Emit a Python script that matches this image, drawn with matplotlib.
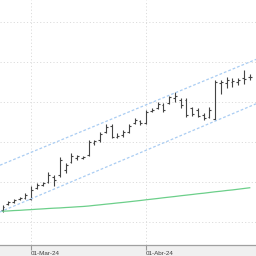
import matplotlib
matplotlib.use('Agg')
import matplotlib.pyplot as plt

# trading-day index of each bar
bar_idx = list(range(44))

highs  = [107.13, 107.66, 107.91, 108.16, 108.59, 109.50, 109.84, 109.96, 111.29, 110.88,
          113.16, 112.38, 113.63, 113.38, 113.25, 115.25, 115.25, 116.29, 117.21, 117.21,
          116.13, 116.50, 117.25, 117.96, 117.81, 119.00, 119.21, 120.00, 119.88, 120.81,
          121.19, 120.46, 120.46, 119.41, 119.31, 118.59, 119.41, 122.75, 122.75, 123.13,
          122.96, 122.96, 123.94, 123.50]
lows   = [106.25, 107.09, 107.34, 107.75, 107.88, 107.75, 109.09, 109.50, 109.84, 109.50,
          110.66, 111.13, 112.38, 112.75, 112.88, 113.25, 114.63, 115.04, 116.09, 115.46,
          115.50, 115.66, 116.09, 117.19, 117.13, 117.25, 118.69, 119.13, 118.69, 119.75,
          120.06, 119.31, 118.16, 118.25, 118.09, 117.75, 117.96, 117.75, 121.00, 121.81,
          121.88, 122.13, 122.25, 122.75]
opens  = [106.50, 107.25, 107.50, 107.88, 108.00, 107.88, 109.25, 109.63, 110.00, 110.63,
          110.88, 111.50, 112.50, 113.00, 113.00, 113.38, 114.88, 115.25, 116.25, 117.00,
          115.63, 115.88, 116.25, 117.38, 117.63, 117.38, 118.88, 119.25, 119.63, 119.88,
          120.50, 120.25, 120.25, 119.25, 119.00, 118.38, 118.13, 117.88, 122.38, 122.38,
          122.50, 122.50, 123.00, 123.13]
closes = [106.88, 107.50, 107.75, 108.06, 108.38, 109.00, 109.63, 109.88, 110.88, 110.25,
          112.75, 112.13, 113.25, 113.25, 113.13, 115.00, 115.13, 116.00, 116.88, 115.63,
          115.75, 116.25, 117.00, 117.75, 117.38, 118.75, 119.06, 119.75, 119.00, 120.63,
          120.75, 119.63, 118.38, 118.50, 118.25, 118.00, 119.00, 122.50, 122.50, 122.75,
          122.63, 122.75, 122.88, 123.13]
mov_avg = [106.34, 106.38, 106.43, 106.46, 106.51, 106.55, 106.60, 106.64, 106.69, 106.73,
           106.76, 106.81, 106.85, 106.90, 106.94, 107.00, 107.08, 107.15, 107.23, 107.30,
           107.38, 107.45, 107.53, 107.61, 107.69, 107.78, 107.86, 107.94, 108.03, 108.11,
           108.19, 108.28, 108.36, 108.44, 108.53, 108.60, 108.69, 108.78, 108.85, 108.94,
           109.01, 109.10, 109.19, 109.28]

# channel lines: (index, price) at first and last bar
chan_upper = [(0, 112.23), (43, 125.00)]
chan_lower = [(0, 106.39), (43, 119.44)]

tick_pos    = [5, 25]
tick_labels = ['01-Mar-24', '01-Abr-24']
grid_prices = [105, 110, 115, 120, 125, 130]

fig = plt.figure(figsize=(2.56, 2.56), dpi=100, facecolor='#f0f0f0')
ax = fig.add_axes([0, 11/256, 1, 245/256])
ax.set_facecolor('white')

bar_col = '#444444'
tw = 0.32
ax.vlines(bar_idx, lows, highs, color=bar_col, lw=0.8)
ax.hlines(opens, [i - tw for i in bar_idx], bar_idx, color=bar_col, lw=0.8)
ax.hlines(closes, bar_idx, [i + tw for i in bar_idx], color=bar_col, lw=0.8)

ax.axline(chan_upper[0], chan_upper[1], color='#aacdf3', lw=0.9, ls=(0, (2.2, 1.6)))
ax.axline(chan_lower[0], chan_lower[1], color='#aacdf3', lw=0.9, ls=(0, (2.2, 1.6)))
ax.plot(bar_idx, mov_avg, color='#6ccf8a', lw=0.9)

ax.set_xlim(-0.435, 44.09)
ax.set_ylim(102.125, 132.75)

ax.set_yticks(grid_prices)
ax.set_xticks(tick_pos)
ax.set_xticklabels(tick_labels, fontsize=4.5, family='Liberation Sans', color='#404040', ha='left')
ax.tick_params(axis='y', length=0, labelleft=False)
ax.tick_params(axis='x', length=3.5, width=0.8, color='#999999', pad=0.5)
ax.grid(True, color='#dcdcdc', ls=(0, (1.2, 2.2)), lw=0.7)

for s in ['top', 'left', 'right']:
    ax.spines[s].set_visible(False)
ax.spines['bottom'].set_color('#a0a0a0')
ax.spines['bottom'].set_linewidth(0.9)

fig.savefig('out.png', dpi=100, facecolor=fig.get_facecolor())
